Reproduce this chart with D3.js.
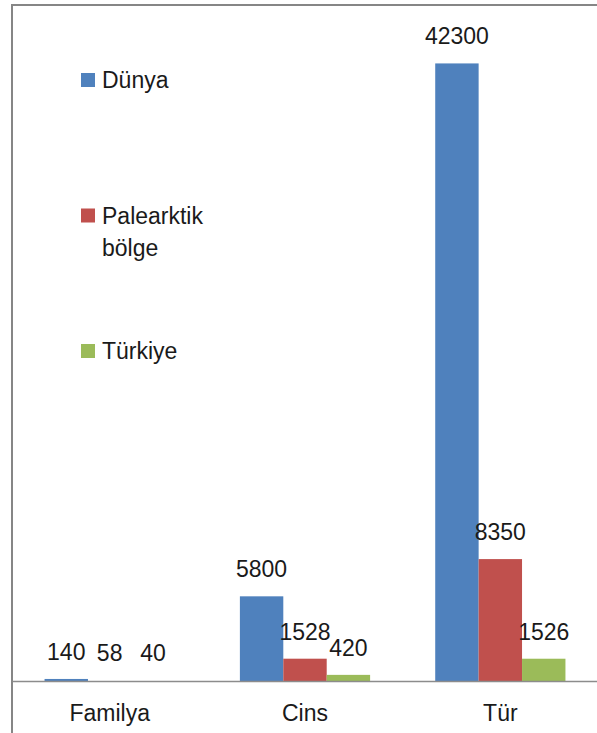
<!DOCTYPE html>
<html>
<head>
<meta charset="utf-8">
<script src="https://cdn.jsdelivr.net/npm/d3@7"></script>
<style>
  body { margin: 0; background: #fff; }
  text { font-family: "Liberation Sans", Arial, sans-serif; fill: #1a1a1a; }
</style>
</head>
<body>
<div class="chart"></div>
<script>
// chart data
var categories = ["Familya", "Cins", "Tür"];
var seriesNames = ["Dünya", "Palearktik bölge", "Türkiye"];
var dunya = [140, 5800, 42300];
var palearktik = [58, 1528, 8350];
var turkiye = [40, 420, 1526];

var colors = ["#4F81BD", "#C0504D", "#9BBB59"];

var svgWidth = 597;
var svgHeight = 733;

// plot area
var margin = { top: 24, right: -1, bottom: 52, left: 12 };
var width = svgWidth - margin.left - margin.right;
var height = svgHeight - margin.top - margin.bottom;

var svg = d3.select(".chart")
    .append("svg")
    .attr("width", svgWidth)
    .attr("height", svgHeight);

// outer frame (left and top edges visible)
svg.append("path")
    .attr("d", `M${margin.left},${svgHeight} V5 H${svgWidth}`)
    .attr("fill", "none")
    .attr("stroke", "#868686")
    .attr("stroke-width", 2);

var chartGroup = svg.append("g")
    .attr("transform", `translate(${margin.left}, ${margin.top})`);

var xScale = d3.scaleBand()
    .domain(categories)
    .range([0, width]);

var seriesScale = d3.scaleBand()
    .domain(d3.range(seriesNames.length))
    .range([0, xScale.bandwidth()])
    .paddingInner(0)
    .paddingOuter(0.75);

var yScale = d3.scaleLinear()
    .domain([0, 45000])
    .range([height, 0]);

var values = [dunya, palearktik, turkiye];
var rows = [];
categories.forEach(function (c, i) {
    values.forEach(function (s, j) {
        rows.push({ cat: c, series: j, value: s[i] });
    });
});

// bars
chartGroup.selectAll("rect.bar")
    .data(rows)
    .enter()
    .append("rect")
    .attr("class", "bar")
    .attr("x", d => xScale(d.cat) + seriesScale(d.series))
    .attr("y", d => yScale(d.value))
    .attr("width", seriesScale.bandwidth())
    .attr("height", d => Math.max(1.5, height - yScale(d.value)))
    .attr("fill", d => colors[d.series])
    .attr("opacity", d => d.value < 100 ? 0 : 1);

// value labels
chartGroup.selectAll("text.value")
    .data(rows)
    .enter()
    .append("text")
    .attr("class", "value")
    .attr("x", d => xScale(d.cat) + seriesScale(d.series) + seriesScale.bandwidth() / 2)
    .attr("y", d => yScale(d.value) - 19)
    .attr("text-anchor", "middle")
    .attr("font-size", "23px")
    .text(d => d.value);

// x axis
var bottomAxis = d3.axisBottom(xScale).tickSize(0).tickPadding(0);
var xAxis = chartGroup.append("g")
    .attr("transform", `translate(0, ${height})`)
    .call(bottomAxis);
xAxis.select(".domain").attr("stroke", "#8c8c8c").attr("stroke-width", 1.5);
xAxis.selectAll(".tick text")
    .attr("y", 40)
    .attr("dy", 0)
    .attr("font-size", "23px")
    .attr("font-family", "Liberation Sans, Arial, sans-serif")
    .attr("fill", "#1a1a1a");

// legend
var legendY = [80, 215.5, 351];
var legend = svg.selectAll("g.legend")
    .data(seriesNames)
    .enter()
    .append("g")
    .attr("class", "legend")
    .attr("transform", (d, i) => `translate(81, ${legendY[i]})`);

legend.append("rect")
    .attr("x", 0)
    .attr("y", -7)
    .attr("width", 14)
    .attr("height", 14)
    .attr("fill", (d, i) => colors[i]);

legend.append("text")
    .attr("x", 21)
    .attr("y", 8)
    .attr("font-size", "23px")
    .each(function (d) {
        var words = d.split(" ");
        var t = d3.select(this);
        words.forEach(function (w, k) {
            t.append("tspan")
                .attr("x", 21)
                .attr("dy", k === 0 ? 0 : 32)
                .text(w);
        });
    });
</script>
</body>
</html>
